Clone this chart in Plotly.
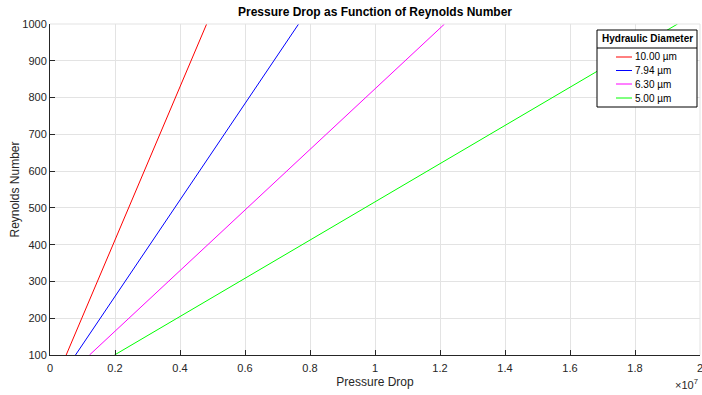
import plotly.graph_objects as go

diameters = ["10.00 µm", "7.94 µm", "6.30 µm", "5.00 µm"]
colors = ["#ff0000", "#0000ff", "#ff00ff", "#00ff00"]
reynolds = [100, 1000]
pressure_10 = [0.0498e7, 0.482e7]
pressure_794 = [0.0785e7, 0.765e7]
pressure_630 = [0.1215e7, 1.214e7]
pressure_500 = [0.1985e7, 1.931e7]
x_ticks = [0, 0.2e7, 0.4e7, 0.6e7, 0.8e7, 1e7, 1.2e7, 1.4e7, 1.6e7, 1.8e7, 2e7]
x_tick_labels = ["0", "0.2", "0.4", "0.6", "0.8", "1", "1.2", "1.4", "1.6", "1.8", "2"]
y_ticks = [100, 200, 300, 400, 500, 600, 700, 800, 900, 1000]
legend_title = "Hydraulic Diameter"

series = [pressure_10, pressure_794, pressure_630, pressure_500]

fig = go.Figure()
for name, col, p in zip(diameters, colors, series):
    fig.add_trace(go.Scatter(x=p, y=reynolds, mode="lines", name=name,
                             showlegend=False, line=dict(color=col, width=1)))

font_family = "Liberation Sans, Arial, sans-serif"
txt = "#262626"
grid = "#e3e3e3"

fig.update_layout(
    width=702, height=395,
    margin=dict(l=50, r=2, t=24, b=40),
    paper_bgcolor="white", plot_bgcolor="white",
    font=dict(family=font_family, size=11, color=txt),
    title=dict(text="<b>Pressure Drop as Function of Reynolds Number</b>",
               x=0.5, xanchor="center", xref="paper", y=0.97, yanchor="middle",
               font=dict(size=12, color="black")),
    showlegend=False,
)
fig.update_xaxes(
    range=[0, 2e7], tickvals=x_ticks, ticktext=x_tick_labels,
    showgrid=True, gridcolor=grid, gridwidth=1,
    showline=True, linecolor="#262626", linewidth=1,
    ticks="inside", ticklen=5, tickcolor="#262626",
    zeroline=False, mirror=False, automargin=False,
    ticklabelstandoff=3, ticklabeloverflow="allow",
    title=dict(text="Pressure Drop", font=dict(size=12, color=txt), standoff=4),
    tickfont=dict(size=11, color=txt),
)
fig.update_yaxes(
    range=[100, 1000], tickvals=y_ticks,
    showgrid=True, gridcolor=grid, gridwidth=1,
    showline=True, linecolor="#262626", linewidth=1,
    ticks="inside", ticklen=5, tickcolor="#262626",
    zeroline=False, automargin=False, ticklabeloverflow="allow",
    title=dict(text="Reynolds Number", font=dict(size=12, color=txt), standoff=0),
    tickfont=dict(size=11, color=txt),
)
# top and right light border (grid-like)
fig.add_shape(type="line", xref="paper", yref="paper", x0=0, x1=1, y0=1, y1=1,
              line=dict(color=grid, width=1))
fig.add_shape(type="line", xref="paper", yref="paper", x0=1, x1=1, y0=0, y1=1,
              line=dict(color=grid, width=1))
fig.add_annotation(text="×10<sup>7</sup>", xref="paper", yref="paper",
                   x=1.0, y=-0.06, xanchor="right", yanchor="top",
                   showarrow=False, font=dict(size=11, color=txt))

# manual legend (MATLAB style)
W, H, L, T = 650.0, 331.0, 50.0, 24.0
def px(x):
    return (x - L) / W
def py(y):
    return (T + H - y) / H

fig.add_shape(type="rect", xref="paper", yref="paper",
              x0=px(597), x1=px(697), y0=py(107), y1=py(30),
              line=dict(color="black", width=1), fillcolor="white", layer="above")
fig.add_shape(type="line", xref="paper", yref="paper",
              x0=px(597), x1=px(697), y0=py(48), y1=py(48),
              line=dict(color="black", width=1), layer="above")
fig.add_annotation(text="<b>" + legend_title + "</b>", xref="paper", yref="paper",
                   x=px(647), y=py(39), xanchor="center", yanchor="middle",
                   showarrow=False, font=dict(size=10, color="black"))
item_y = [57, 70.5, 84, 98]
for name, col, yy in zip(diameters, colors, item_y):
    fig.add_shape(type="line", xref="paper", yref="paper",
                  x0=px(616), x1=px(632), y0=py(yy), y1=py(yy),
                  line=dict(color=col, width=1), layer="above")
    fig.add_annotation(text=name, xref="paper", yref="paper",
                       x=px(633), y=py(yy), xanchor="left", yanchor="middle",
                       showarrow=False, font=dict(size=10, color="black"))

fig.write_html("out.html", config={"displayModeBar": False},
               post_script="document.body.style.margin='0';")
